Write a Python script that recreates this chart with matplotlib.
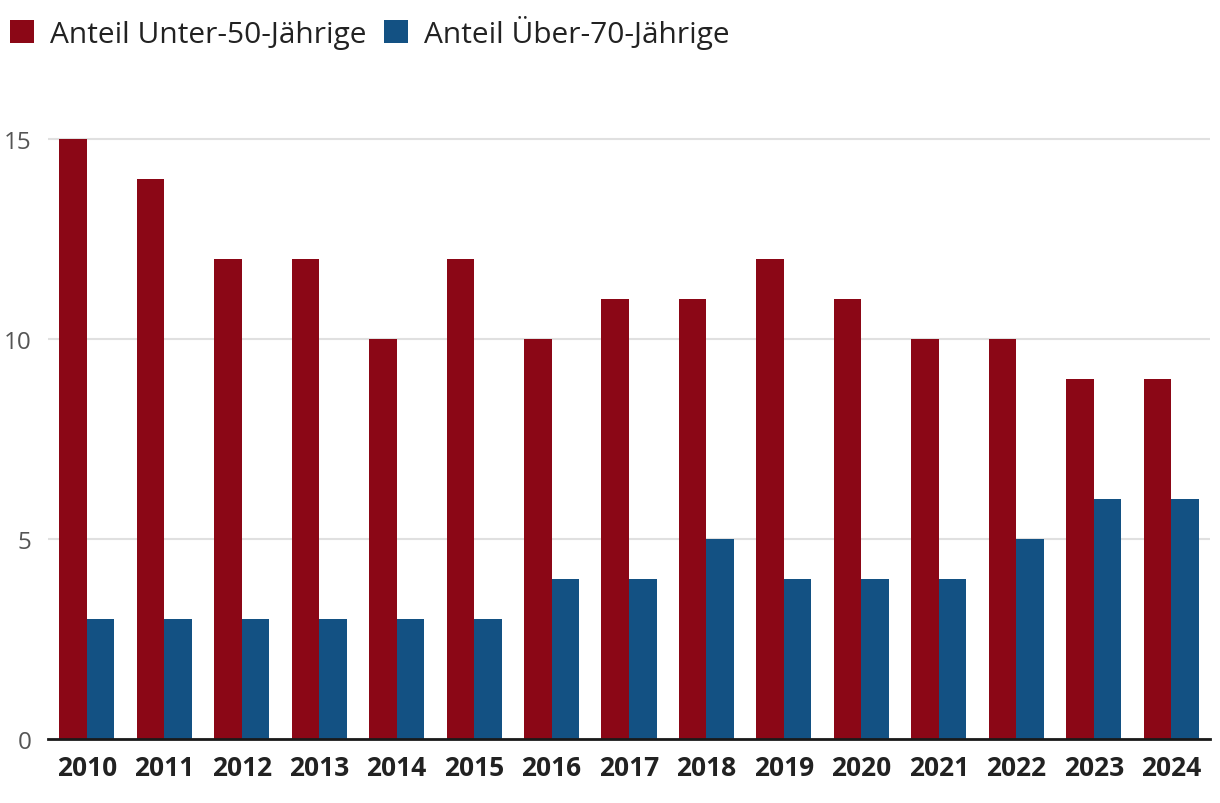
import matplotlib
matplotlib.use("Agg")
import matplotlib.pyplot as plt
import numpy as np

years = ["2010", "2011", "2012", "2013", "2014", "2015", "2016", "2017",
         "2018", "2019", "2020", "2021", "2022", "2023", "2024"]
unter50 = [15, 14, 12, 12, 10, 12, 10, 11, 11, 12, 11, 10, 10, 9, 9]
ueber70 = [3, 3, 3, 3, 3, 3, 4, 4, 5, 4, 4, 4, 5, 6, 6]
series_names = ["Anteil Unter-50-Jährige", "Anteil Über-70-Jährige"]
yticks = [0, 5, 10, 15]

RED = "#8b0716"
BLUE = "#135183"
FONT = "Open Sans"

W, H = 1220, 804
fig = plt.figure(figsize=(W / 100, H / 100), dpi=100)
left, right, bottom_px, top_px = 48, 1210, 740, 100
ax = fig.add_axes([left / W, 1 - bottom_px / H, (right - left) / W, (bottom_px - top_px) / H])

x = np.arange(len(years))
bw = 0.355
b1 = ax.bar(x - bw / 2, unter50, width=bw, color=RED, label=series_names[0], zorder=3)
b2 = ax.bar(x + bw / 2, ueber70, width=bw, color=BLUE, label=series_names[1], zorder=3)

ax.set_xlim(-0.5, len(years) - 0.5)
ax.set_ylim(0, 16)
ax.set_yticks(yticks)
ax.set_yticklabels([str(t) for t in yticks], fontfamily=FONT, fontsize=17.5, color="#555555")
ax.set_xticks(x)
ax.set_xticklabels(years, fontfamily=FONT, fontsize=19, fontweight="bold", color="#222222")
ax.tick_params(axis="y", length=0, pad=12)
ax.tick_params(axis="x", length=0, pad=11)
ax.grid(axis="y", color="#e0e0e0", linewidth=1.5, zorder=0)
for s in ["top", "right", "left"]:
    ax.spines[s].set_visible(False)
ax.spines["bottom"].set_color("#1a1a1a")
ax.spines["bottom"].set_linewidth(2)
ax.spines["bottom"].set_zorder(4)

fs = 21.5
fig.legend(handles=[b1, b2], loc="upper left", bbox_to_anchor=(10 / W, 1 - 16 / H),
           frameon=False, ncol=2, prop={"family": FONT, "size": fs},
           handlelength=0.8, handleheight=0.8, handletextpad=0.54,
           columnspacing=0.6, borderaxespad=0, borderpad=0, labelcolor="#222222")

fig.savefig("out.png", dpi=100)
